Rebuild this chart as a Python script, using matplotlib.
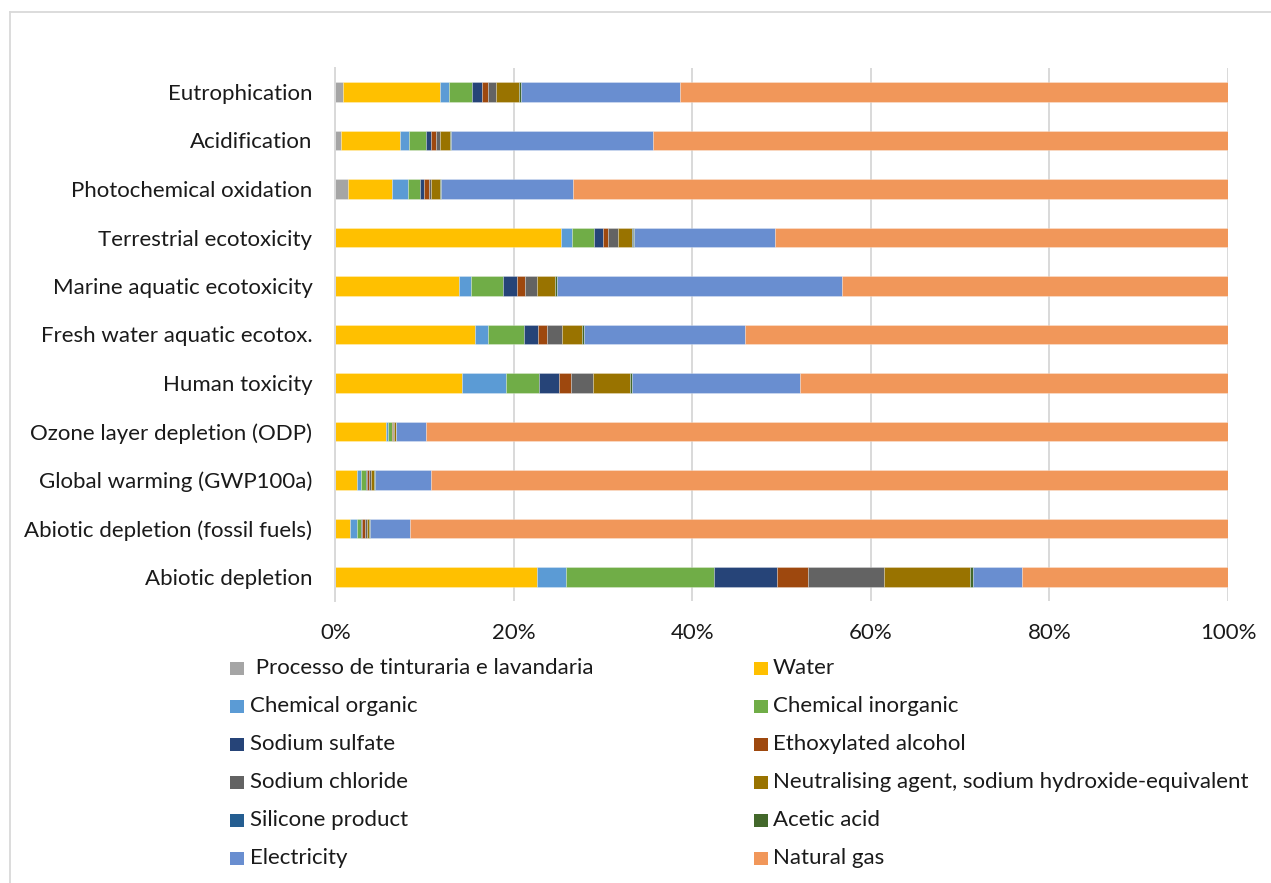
import matplotlib
matplotlib.use("Agg")
import matplotlib.pyplot as plt
from matplotlib.patches import Rectangle
from matplotlib.lines import Line2D
from matplotlib.ticker import FixedLocator, FuncFormatter

W, H = 1271, 883

categories = [
    "Eutrophication",
    "Acidification",
    "Photochemical oxidation",
    "Terrestrial ecotoxicity",
    "Marine aquatic ecotoxicity",
    "Fresh water aquatic ecotox.",
    "Human toxicity",
    "Ozone layer depletion (ODP)",
    "Global warming (GWP100a)",
    "Abiotic depletion (fossil fuels)",
    "Abiotic depletion",
]

series_names = [
    " Processo de tinturaria e lavandaria",
    "Water",
    "Chemical organic",
    "Chemical inorganic",
    "Sodium sulfate",
    "Ethoxylated alcohol",
    "Sodium chloride",
    "Neutralising agent, sodium hydroxide-equivalent",
    "Silicone product",
    "Acetic acid",
    "Electricity",
    "Natural gas",
]

# contribution shares (%) per category, top to bottom
processo = [0.9, 0.65, 1.45, 0, 0, 0, 0, 0, 0, 0, 0]
water = [10.8, 6.6, 4.95, 25.3, 13.9, 15.6, 14.15, 5.65, 2.4, 1.65, 22.55]
chem_organic = [1.05, 1.05, 1.7, 1.2, 1.3, 1.5, 5.0, 0.2, 0.5, 0.8, 3.3]
chem_inorganic = [2.6, 1.85, 1.4, 2.45, 3.6, 4.05, 3.65, 0.5, 0.5, 0.4, 16.55]
sodium_sulfate = [1.05, 0.6, 0.45, 1.05, 1.55, 1.6, 2.25, 0.05, 0.15, 0.1, 7.05]
ethoxylated = [0.65, 0.5, 0.55, 0.6, 0.9, 1.0, 1.4, 0.05, 0.2, 0.4, 3.45]
sodium_chloride = [0.95, 0.5, 0.25, 1.1, 1.35, 1.6, 2.4, 0.1, 0.2, 0.15, 8.55]
neutralising = [2.55, 1.1, 0.95, 1.55, 2.0, 2.25, 4.15, 0.25, 0.35, 0.25, 9.6]
silicone = [0.05, 0.05, 0.05, 0.1, 0.05, 0.05, 0.05, 0.0, 0.05, 0.05, 0.1]
acetic = [0.15, 0.05, 0.05, 0.1, 0.15, 0.25, 0.15, 0.05, 0.05, 0.05, 0.3]
electricity = [17.85, 22.6, 14.8, 15.8, 32.0, 18.0, 18.8, 3.3, 6.35, 4.5, 5.5]
natural_gas = [61.4, 64.45, 73.4, 50.75, 43.2, 54.1, 48.0, 89.85, 89.25, 91.65, 23.05]

x_ticks = [0, 20, 40, 60, 80, 100]

series_values = [processo, water, chem_organic, chem_inorganic, sodium_sulfate,
                 ethoxylated, sodium_chloride, neutralising, silicone, acetic,
                 electricity, natural_gas]
colors = ["#A5A5A5", "#FFC000", "#5B9BD5", "#70AD47", "#264478", "#9E480E",
          "#636363", "#997300", "#255E91", "#43682B", "#698ED0", "#F1975A"]

plt.rcParams["font.family"] = ["Lato", "DejaVu Sans"]
text_color = "#1a1a1a"
fsize = 16

fig = plt.figure(figsize=(W / 100, H / 100), dpi=100)
fig.patch.set_facecolor("white")

# chart area frame
fig.add_artist(Line2D([10 / W, 1.0], [1 - 11.5 / H, 1 - 11.5 / H],
                      transform=fig.transFigure, color="#D9D9D9", lw=1.3))
fig.add_artist(Line2D([10 / W, 10 / W], [1 - 11.5 / H, 0.0],
                      transform=fig.transFigure, color="#D9D9D9", lw=1.3))

left, right = 335.3 / W, 1228 / W
top, bottom = 1 - 67.75 / H, 1 - 601.25 / H
ax = fig.add_axes([left, bottom, right - left, top - bottom])

ypos = list(range(len(categories)))
cum = [0.0] * len(categories)
for vals, col, name in zip(series_values, colors, series_names):
    ax.barh(ypos, vals, left=cum, height=0.4, color=col, label=name,
            edgecolor=(1, 1, 1, 0.45), linewidth=0.4, zorder=3)
    cum = [c + v for c, v in zip(cum, vals)]

ax.set_xlim(0, 100)
ax.set_ylim(len(categories) - 0.5, -0.5)
ax.set_yticks(ypos)
ax.set_yticklabels(categories)
ax.xaxis.set_major_locator(FixedLocator(x_ticks))
ax.xaxis.set_major_formatter(FuncFormatter(lambda v, p: f"{v:.0f}%"))
ax.tick_params(axis="both", length=0, labelsize=fsize, colors=text_color)
ax.tick_params(axis="y", pad=16.5)
ax.tick_params(axis="x", pad=16)
ax.grid(axis="x", color="#D9D9D9", linewidth=1.4, zorder=0)
ax.grid(axis="y", visible=False)
for s in ["top", "right", "bottom"]:
    ax.spines[s].set_visible(False)
ax.spines["left"].set_color("#D9D9D9")
ax.spines["left"].set_linewidth(1.4)
ax.spines["left"].set_zorder(4)

# legend laid out in two columns, row by row
for i, (name, col) in enumerate(zip(series_names, colors)):
    r, c = divmod(i, 2)
    yc = 668 + 38 * r
    sx = [230, 754][c]
    tx = [250, 773][c]
    fig.add_artist(Rectangle((sx / W, 1 - (yc + 6.5) / H), 13.5 / W, 13 / H,
                             transform=fig.transFigure, facecolor=col,
                             edgecolor="none"))
    fig.text(tx / W, 1 - yc / H, name, ha="left", va="center",
             fontsize=fsize, color=text_color)

fig.savefig("out.png", dpi=100, facecolor="white")
